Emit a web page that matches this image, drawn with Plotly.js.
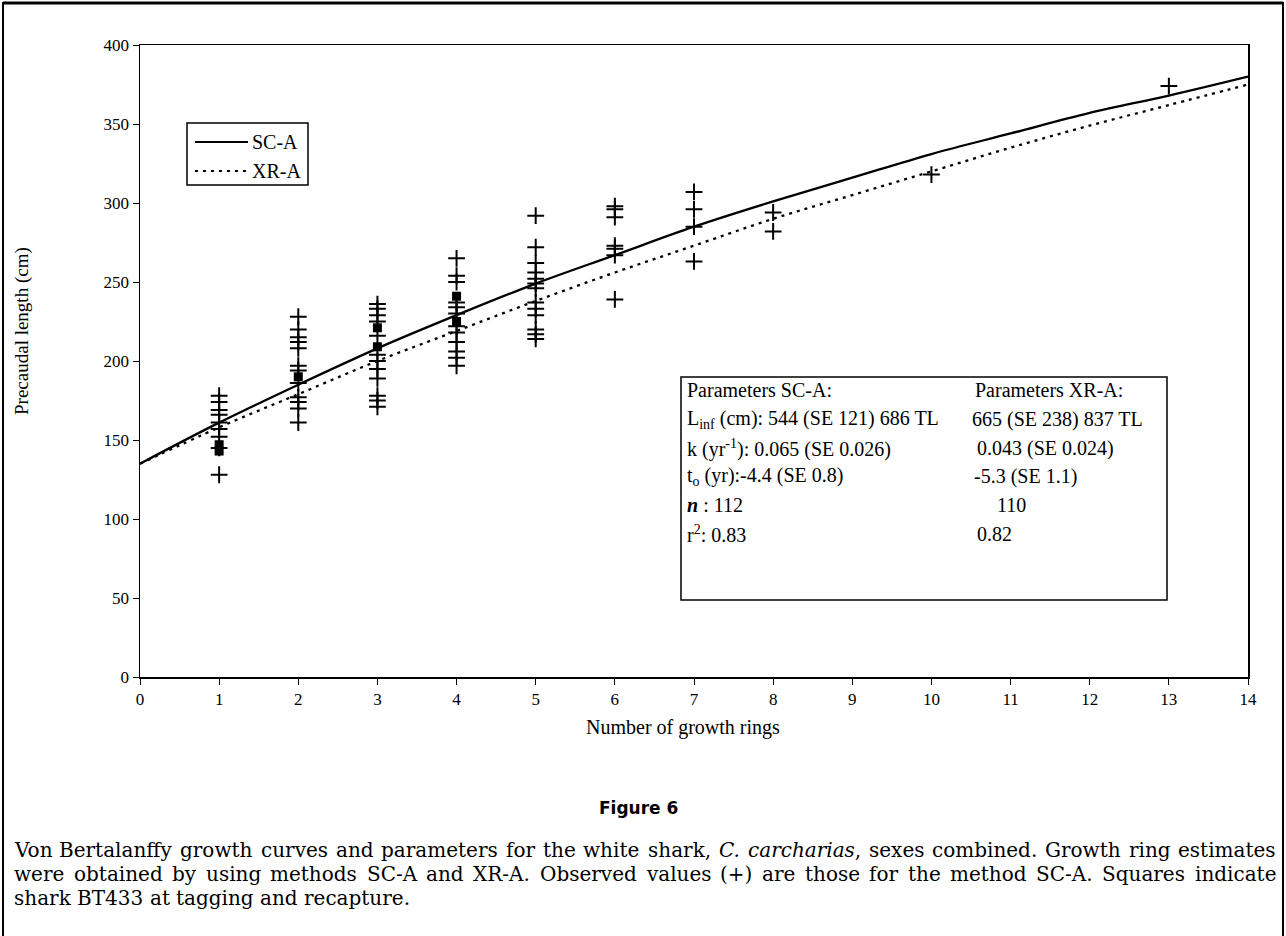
<!DOCTYPE html>
<html>
<head>
<meta charset="utf-8">
<script src="https://cdn.plot.ly/plotly-3.0.1.min.js"></script>
<style>
html,body{margin:0;padding:0;background:#fff;}
#chart{width:1286px;height:936px;}
</style>
</head>
<body>
<div id="chart"></div>
<script>
// Observed precaudal lengths (cm) by number of growth rings (SC-A)
const rings = [1, 2, 3, 4, 5, 6, 7, 8, 10, 13];
const observed = [
  [178, 174, 169, 166, 161, 157, 152, 145, 128],
  [228, 220, 215, 212, 208, 197, 194, 186, 177, 174, 170, 161],
  [236, 233, 229, 225, 216, 204, 200, 195, 189, 178, 175, 171],
  [265, 254, 250, 237, 234, 230, 222, 218, 212, 206, 202, 197],
  [292, 272, 262, 256, 252, 249, 246, 237, 233, 229, 220, 217, 214],
  [298, 296, 291, 273, 271, 267, 239],
  [307, 296, 285, 263],
  [294, 282],
  [318],
  [374]
];
// Shark BT433 at tagging and recapture (squares)
const squareX = [1, 1, 2, 3, 3, 4, 4];
const squareY = [147, 143, 190, 221, 209, 241, 225];

// Fitted von Bertalanffy curves
const curveX  = [0, 1, 2, 3, 4, 5, 6, 7, 8, 9, 10, 11, 12, 13, 14];
const curveSC = [135, 161, 185, 208, 229, 249, 267, 285, 301, 316, 331, 344, 357, 368, 380];
const curveXR = [135, 158, 179, 200, 219, 238, 256, 273, 290, 305, 320, 335, 349, 362, 375];

const xTicks = [0,1,2,3,4,5,6,7,8,9,10,11,12,13,14];
const yTicks = [0,50,100,150,200,250,300,350,400];

const seriesNames = ['SC-A', 'XR-A'];

const obsX = [], obsY = [];
rings.forEach((r, i) => observed[i].forEach(v => { obsX.push(r); obsY.push(v); }));

const serif = 'Liberation Serif, Times New Roman, serif';
const capFamily = 'DejaVu Serif';

const traces = [
  {x: curveX, y: curveSC, mode: 'lines', name: seriesNames[0], showlegend: false,
   line: {color: '#000', width: 2.3, shape: 'spline'}, hoverinfo: 'skip'},
  {x: curveX, y: curveXR, mode: 'lines', name: seriesNames[1], showlegend: false,
   line: {color: '#000', width: 2.3, dash: '3px,5px', shape: 'spline'}, hoverinfo: 'skip'},
  {x: obsX, y: obsY, mode: 'markers', showlegend: false,
   marker: {symbol: 'cross-thin', size: 12, line: {color: '#000', width: 2}}},
  {x: squareX, y: squareY, mode: 'markers', showlegend: false,
   marker: {symbol: 'square', size: 9, color: '#000'}}
];

const L = 140, R = 1248, T = 45, B = 677;
const W = R - L, H = B - T;
const px = p => (p - L) / W;
const py = p => (B - p) / H;

const annotations = [];
const shapes = [];
const txt = (x, y, t, font, xa, ya, extra) => annotations.push(Object.assign({xref: 'paper', yref: 'paper',
  x: px(x), y: py(y), xanchor: xa || 'left', yanchor: ya || 'middle', text: t, showarrow: false, font: font}, extra || {}));

// Legend (drawn by hand so the sample lines match the original length)
const legFont = {family: serif, size: 20, color: '#000'};
shapes.push({type: 'rect', xref: 'paper', yref: 'paper', x0: px(187), x1: px(308), y0: py(185), y1: py(123),
  line: {color: '#000', width: 1.5}, fillcolor: '#fff', layer: 'above'});
shapes.push({type: 'line', xref: 'paper', yref: 'paper', x0: px(195), x1: px(248), y0: py(142), y1: py(142),
  line: {color: '#000', width: 2}});
shapes.push({type: 'line', xref: 'paper', yref: 'paper', x0: px(195), x1: px(248), y0: py(171), y1: py(171),
  line: {color: '#000', width: 2, dash: '3px,5px'}});
txt(250, 142, seriesNames[0], legFont);
txt(250, 171, seriesNames[1], legFont);

// Parameter box
const boxFont = {family: serif, size: 20, color: '#000'};
shapes.push({type: 'rect', xref: 'paper', yref: 'paper', x0: px(681), x1: px(1167), y0: py(600), y1: py(377),
  line: {color: '#000', width: 1.5}, fillcolor: 'rgba(0,0,0,0)'});
const rowsY = [390, 419, 448, 476, 505, 534];
const leftTexts = ['Parameters SC-A:', 'L<sub>inf</sub> (cm): 544 (SE 121) 686 TL', 'k (yr<sup>-1</sup>): 0.065 (SE 0.026)',
  't<sub>o</sub> (yr):-4.4 (SE 0.8)', '<b><i>n</i></b> : 112', 'r<sup>2</sup>: 0.83'];
const rightTexts = ['Parameters XR-A:', '665 (SE 238) 837 TL', '0.043 (SE 0.024)', '-5.3 (SE 1.1)', '110', '0.82'];
const rightX = [973, 970, 975, 972, 995, 975];
leftTexts.forEach((t, i) => txt(685, rowsY[i], t, boxFont));
rightTexts.forEach((t, i) => txt(rightX[i], rowsY[i], t, boxFont));

// Axis titles
txt(22, 331, 'Precaudal length (cm)', {family: serif, size: 19, color: '#000'}, 'center', 'middle', {textangle: -90});
txt(683, 727, 'Number of growth rings', {family: serif, size: 20, color: '#000'}, 'center', 'middle');

// Figure label and caption
txt(638, 808, '<b>Figure 6</b>', {family: 'DejaVu Sans, sans-serif', size: 17, color: '#000'}, 'center', 'middle');

const capSize = 20;
const capLines = [
  [['Von',0],['Bertalanffy',0],['growth',0],['curves',0],['and',0],['parameters',0],['for',0],['the',0],['white',0],['shark,',0],['C.',1],['carcharias',1,','],['sexes',0],['combined.',0],['Growth',0],['ring',0],['estimates',0]],
  [['were',0],['obtained',0],['by',0],['using',0],['methods',0],['SC-A',0],['and',0],['XR-A.',0],['Observed',0],['values',0],['(+)',0],['are',0],['those',0],['for',0],['the',0],['method',0],['SC-A.',0],['Squares',0],['indicate',0]],
  [['shark',0],['BT433',0],['at',0],['tagging',0],['and',0],['recapture.',0]]
];
const capY = [850, 874, 898];
const capLeft = 12, capRight = 1274;
const cv = document.createElement('canvas').getContext('2d');
const measure = (s, it) => { cv.font = (it ? 'italic ' : '') + capSize + 'px "' + capFamily + '"'; return cv.measureText(s).width; };
capLines.forEach((words, li) => {
  const widths = words.map(w => measure(w[0], w[1]) + (w[2] ? measure(w[2], 0) : 0));
  const total = widths.reduce((a, b) => a + b, 0);
  const normalGap = measure(' ', 0);
  const justify = li < capLines.length - 1;
  const gap = justify ? (capRight - capLeft - total) / (words.length - 1) : normalGap;
  let x = capLeft;
  words.forEach((w, i) => {
    let t = w[1] ? '<i>' + w[0] + '</i>' : w[0];
    if (w[2]) t += w[2];
    txt(x, capY[li], t, {family: capFamily + ', serif', size: capSize, color: '#000'});
    x += widths[i] + gap;
  });
});

// Outer frame
shapes.push({type: 'rect', xref: 'paper', yref: 'paper', x0: px(3), x1: px(1283), y0: py(960), y1: py(3),
  line: {color: '#000', width: 2}, fillcolor: 'rgba(0,0,0,0)'});
shapes.push({type: 'line', xref: 'paper', yref: 'paper', x0: px(3), x1: px(1283), y0: py(3), y1: py(3),
  line: {color: '#000', width: 3}});

const layout = {
  width: 1286, height: 936,
  margin: {l: L, r: 1286 - R, t: T, b: 936 - B},
  paper_bgcolor: '#fff', plot_bgcolor: '#fff',
  showlegend: false,
  xaxis: {range: [0, 14], tickvals: xTicks, ticktext: xTicks.map(String), showgrid: false, zeroline: false,
    showline: true, mirror: true, linecolor: '#000', linewidth: 1.5, ticks: 'outside', ticklen: 6, tickcolor: '#000',
    tickfont: {family: serif, size: 17, color: '#000'}, fixedrange: true},
  yaxis: {range: [0, 400], tickvals: yTicks, ticktext: yTicks.map(String), showgrid: false, zeroline: false,
    showline: true, mirror: true, linecolor: '#000', linewidth: 1.5, ticks: 'outside', ticklen: 6, tickcolor: '#000',
    tickfont: {family: serif, size: 17, color: '#000'}, fixedrange: true},
  annotations: annotations,
  shapes: shapes
};

Plotly.newPlot('chart', traces, layout, {staticPlot: true});
</script>
</body>
</html>
